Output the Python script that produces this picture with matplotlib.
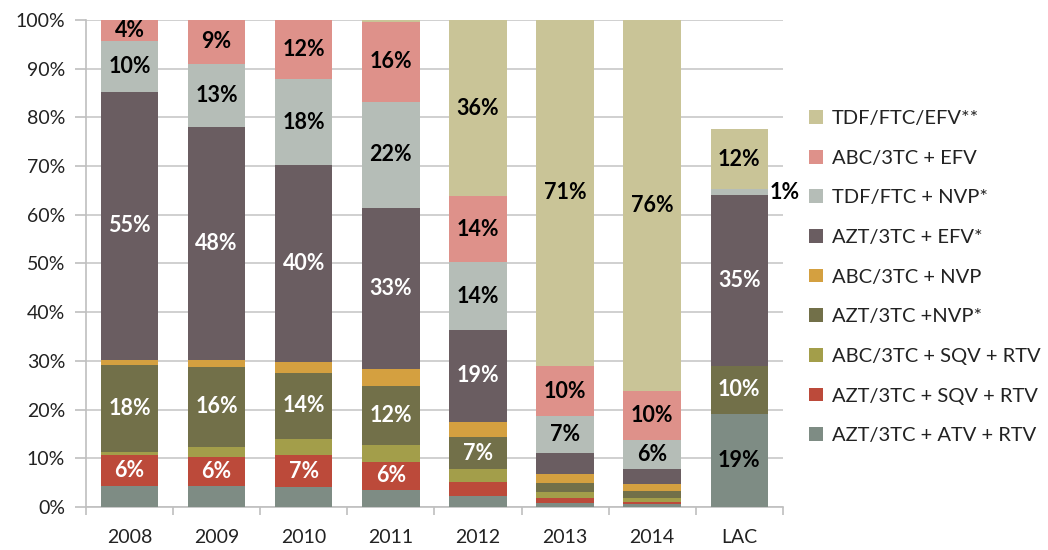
import matplotlib
matplotlib.use("Agg")
import matplotlib.pyplot as plt
import numpy as np

plt.rcParams['font.family'] = ['Lato', 'DejaVu Sans']

categories = ["2008", "2009", "2010", "2011", "2012", "2013", "2014", "LAC"]

series_names = [
    "AZT/3TC + ATV + RTV",
    "AZT/3TC + SQV + RTV",
    "ABC/3TC + SQV + RTV",
    "AZT/3TC +NVP*",
    "ABC/3TC + NVP",
    "AZT/3TC + EFV*",
    "TDF/FTC + NVP*",
    "ABC/3TC + EFV",
    "TDF/FTC/EFV**",
]

atv_azt = [4.3, 4.3, 4.1, 3.6, 2.2, 0.9, 0.6, 19.1]
sqv_azt = [6.3, 6.0, 6.6, 5.6, 2.9, 1.0, 0.5, 0.0]
sqv_abc = [0.8, 2.1, 3.2, 3.6, 2.7, 1.3, 0.8, 0.0]
nvp_azt = [17.8, 16.3, 13.7, 12.1, 6.6, 1.8, 1.5, 9.9]
nvp_abc = [1.0, 1.4, 2.2, 3.5, 3.1, 1.8, 1.4, 0.0]
efv_azt = [55.0, 48.0, 40.4, 33.0, 18.9, 4.4, 3.1, 35.0]
nvp_tdf = [10.4, 12.9, 17.6, 21.8, 13.8, 7.4, 5.9, 1.2]
efv_abc = [4.4, 9.0, 12.2, 16.3, 13.6, 10.4, 10.1, 0.0]
tdf_ftc_efv = [0.0, 0.0, 0.0, 0.5, 36.2, 71.0, 76.1, 12.3]

series_values = [atv_azt, sqv_azt, sqv_abc, nvp_azt, nvp_abc, efv_azt, nvp_tdf, efv_abc, tdf_ftc_efv]

# which segments carry a value label (2 = label outside the bar)
show_atv_azt = [0, 0, 0, 0, 0, 0, 0, 1]
show_sqv_azt = [1, 1, 1, 1, 0, 0, 0, 0]
show_sqv_abc = [0, 0, 0, 0, 0, 0, 0, 0]
show_nvp_azt = [1, 1, 1, 1, 1, 0, 0, 1]
show_nvp_abc = [0, 0, 0, 0, 0, 0, 0, 0]
show_efv_azt = [1, 1, 1, 1, 1, 0, 0, 1]
show_nvp_tdf = [1, 1, 1, 1, 1, 1, 1, 2]
show_efv_abc = [1, 1, 1, 1, 1, 1, 1, 0]
show_tdf_ftc_efv = [0, 0, 0, 0, 1, 1, 1, 1]
series_show = [show_atv_azt, show_sqv_azt, show_sqv_abc, show_nvp_azt, show_nvp_abc,
               show_efv_azt, show_nvp_tdf, show_efv_abc, show_tdf_ftc_efv]

colors = ["#7E8C84", "#BC4A3A", "#A39E4A", "#727049", "#D4A040",
          "#6A5D61", "#B5BDB7", "#DE918A", "#C9C497"]
label_colors = ["black", "white", "white", "white", "black",
                "white", "black", "black", "black"]

fig = plt.figure(figsize=(10.48, 5.5), dpi=100)
ax = fig.add_axes([0.082, 0.078, 0.665, 0.886])

x = np.arange(len(categories))
bottom = np.zeros(len(categories))
handles = []
for name, vals, show, col, lc in zip(series_names, series_values, series_show, colors, label_colors):
    vals = np.array(vals, dtype=float)
    b = ax.bar(x, vals, width=0.66, bottom=bottom, color=col, label=name, zorder=3)
    handles.append(b)
    for i, (v, s) in enumerate(zip(vals, show)):
        if s == 1:
            ax.text(x[i], bottom[i] + v / 2, f"{round(v)}%", ha="center", va="center",
                    color=lc, fontsize=15.5, fontweight="bold", zorder=4)
        elif s == 2:
            ax.text(x[i] + 0.35, bottom[i] + v / 2, f"{round(v)}%", ha="left", va="center",
                    color="black", fontsize=15.5, fontweight="bold", zorder=4)
    bottom += vals

ax.set_xlim(-0.5, len(categories) - 0.5)
ax.set_ylim(0, 100)
ax.set_yticks(np.arange(0, 101, 10))
ax.set_yticklabels([f"{t}%" for t in range(0, 101, 10)])
ax.set_xticks(x)
ax.set_xticklabels(categories)
ax.set_xticks(np.arange(-0.5, len(categories), 1), minor=True)
ax.tick_params(axis="x", which="major", length=0, pad=16, labelsize=14, colors="#222222")
ax.tick_params(axis="x", which="minor", length=6, color="#BFBFBF", width=1.2)
ax.tick_params(axis="y", length=8, width=1.2, labelsize=14, pad=7, colors="#222222")
ax.tick_params(axis="y", which="major", color="#BFBFBF")
ax.grid(axis="y", color="#D0D0D0", linewidth=1.4, zorder=0)
for s in ["top", "right"]:
    ax.spines[s].set_visible(False)
for s in ["left", "bottom"]:
    ax.spines[s].set_color("#BFBFBF")
    ax.spines[s].set_linewidth(1.2)

leg = fig.legend(handles[::-1], series_names[::-1], loc="upper left",
                 bbox_to_anchor=(0.772, 0.800), frameon=False, fontsize=14.5,
                 handlelength=0.68, handleheight=0.68, handletextpad=0.45,
                 labelspacing=1.125, borderpad=0, borderaxespad=0)
for t in leg.get_texts():
    t.set_color("#222222")

fig.savefig("out.png", dpi=100)
